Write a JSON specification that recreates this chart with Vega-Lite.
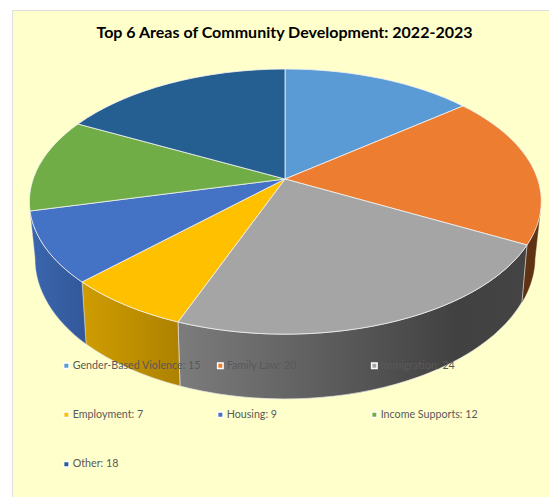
{
"$schema":"https://vega.github.io/schema/vega-lite/v6.json",
"width":537,"height":487,
"autosize":"none",
"padding":{"left":12,"top":10,"right":0,"bottom":0},
"background":"#ffffff",
"view":{"fill":"#FFFFCC","stroke":"#DEDEDE","strokeWidth":1},
"title":{"text":"Top 6 Areas of Community Development: 2022-2023","font":"Lato","fontWeight":"bold","fontSize":16,"color":"#000000","anchor":"middle","dx":4,"dy":31,"offset":0},
"data":{"values":[
{"area":"Gender-Based Violence","label":"Gender-Based Violence: 15","value":15},
{"area":"Family Law","label":"Family Law: 20","value":20},
{"area":"Immigration","label":"Immigration: 24","value":24},
{"area":"Employment","label":"Employment: 7","value":7},
{"area":"Housing","label":"Housing: 9","value":9},
{"area":"Income Supports","label":"Income Supports: 12","value":12},
{"area":"Other","label":"Other: 18","value":18}
]},
"layer":[
{"transform":[{"filter":"datum.value==20"}],
 "mark":{"type":"point","filled":true,"opacity":1,"stroke":"#5f3213","strokeWidth":0.5},
 "encoding":{"size":{"value":4},"color":{"value":"#5F3213"},
 "shape":{"value":"M246.5,-8.5 L241.5,48.5 A250,141 0 0 0 254.5,4.5 L259.5,-40.5 A256,132.5 0 0 1 246.5,-8.5 Z"}}},
{"transform":[{"filter":"datum.value==24"}],
 "mark":{"type":"point","filled":true,"opacity":1,"stroke":"#E0E0E0","strokeWidth":0.7},
 "encoding":{"size":{"value":4},
 "color":{"value":{"gradient":"linear","x1":0,"x2":1,"y1":0,"y2":0,"stops":[{"offset":0,"color":"#7C7C7C"},{"offset":0.8,"color":"#414141"},{"offset":1,"color":"#444444"}]}},
 "shape":{"value":"M246.5,-8.5 L241.5,48.5 A250,141 0 0 1 -100.5,132.5 L-102.5,68.5 A256,132.5 0 0 0 246.5,-8.5 Z"}}},
{"transform":[{"filter":"datum.value==7"}],
 "mark":{"type":"point","filled":true,"opacity":1,"stroke":"#E0E0E0","strokeWidth":0.7},
 "encoding":{"size":{"value":4},
 "color":{"value":{"gradient":"linear","x1":0,"x2":1,"y1":0,"y2":0,"stops":[{"offset":0,"color":"#CF9C00"},{"offset":1,"color":"#AD8200"}]}},
 "shape":{"value":"M-102.5,68.5 L-100.5,132.5 A250,141 0 0 1 -194.5,90.5 L-198.5,28.5 A256,132.5 0 0 0 -102.5,68.5 Z"}}},
{"transform":[{"filter":"datum.value==9"}],
 "mark":{"type":"point","filled":true,"opacity":1,"stroke":"#E0E0E0","strokeWidth":0.4},
 "encoding":{"size":{"value":4},
 "color":{"value":{"gradient":"linear","x1":0,"x2":1,"y1":0,"y2":0,"stops":[{"offset":0,"color":"#3A66AE"},{"offset":1,"color":"#33589A"}]}},
 "shape":{"value":"M-198.5,28.5 L-194.5,90.5 A250,141 0 0 1 -245.5,4.5 L-250.5,-42.5 A256,132.5 0 0 0 -198.5,28.5 Z"}}},
{"mark":{"type":"point","filled":true,"opacity":1,"stroke":"#F2F2F2","strokeWidth":0.8},
 "encoding":{"size":{"value":4},
 "color":{"field":"label","type":"nominal",
  "scale":{"domain":["Gender-Based Violence: 15","Family Law: 20","Immigration: 24","Employment: 7","Housing: 9","Income Supports: 12","Other: 18"],
  "range":["#5B9BD5","#ED7D31","#A5A5A5","#FFC000","#4472C4","#70AD47","#255E91"]},
  "legend":{"title":null,"orient":"none","direction":"horizontal","legendX":49,"legendY":350,"columns":3,"gridAlign":"all","symbolType":"square","symbolSize":30,"symbolStrokeColor":"#ffffff","symbolStrokeWidth":1.5,"labelFont":"Lato","labelFontSize":10.7,"labelColor":"#595959","labelLimit":200,"rowPadding":36.5,"columnPadding":13,"labelOffset":1}},
 "shape":{"field":"area","type":"nominal","legend":null,
  "scale":{"domain":["Gender-Based Violence","Family Law","Immigration","Employment","Housing","Income Supports","Other"],
  "range":[
   "M4.5,-74.5 L4.5,-184.5 A256,132.5 0 0 1 182.5,-147.5 Z",
   "M4.5,-74.5 L182.5,-147.5 A256,132.5 0 0 1 246.5,-8.5 Z",
   "M4.5,-74.5 L246.5,-8.5 A256,132.5 0 0 1 -102.5,68.5 Z",
   "M4.5,-74.5 L-102.5,68.5 A256,132.5 0 0 1 -198.5,28.5 Z",
   "M4.5,-74.5 L-198.5,28.5 A256,132.5 0 0 1 -250.5,-42.5 Z",
   "M4.5,-74.5 L-250.5,-42.5 A256,132.5 0 0 1 -202.5,-129.5 Z",
   "M4.5,-74.5 L-202.5,-129.5 A256,132.5 0 0 1 4.5,-184.5 Z"
  ]}}}}
]
}
